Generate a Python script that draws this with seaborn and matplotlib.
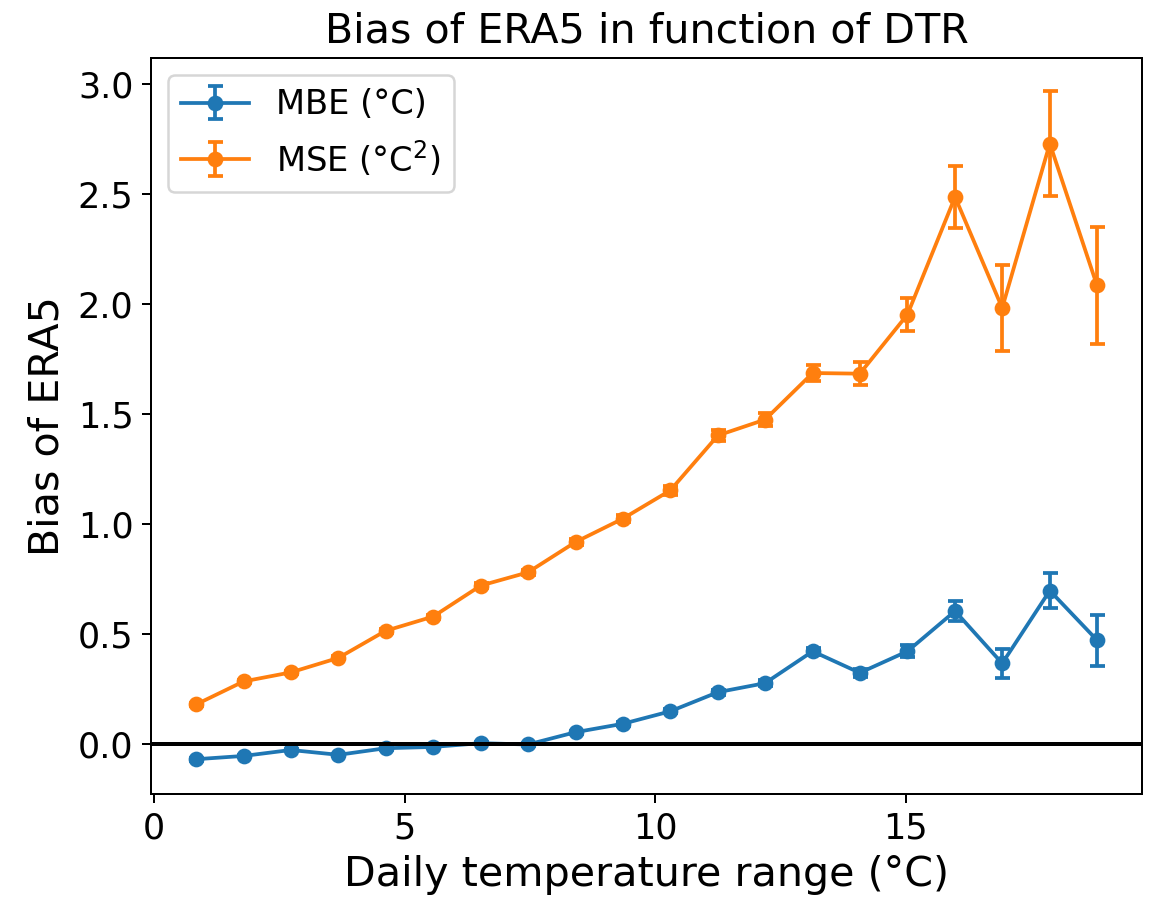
import numpy as np
import pandas as pd
import matplotlib
matplotlib.use("Agg")
import matplotlib.pyplot as plt
import seaborn as sns
from matplotlib.legend_handler import HandlerTuple

# ---- data ----
dtr = [0.84, 1.79, 2.73, 3.68, 4.62, 5.57, 6.52, 7.46, 8.41, 9.35,
       10.30, 11.25, 12.19, 13.14, 14.08, 15.03, 15.98, 16.92, 17.87, 18.81]
mbe = [-0.070, -0.055, -0.028, -0.050, -0.020, -0.014, 0.003, -0.003, 0.053, 0.091,
       0.148, 0.235, 0.276, 0.421, 0.323, 0.421, 0.604, 0.366, 0.697, 0.472]
mbe_err = [0.006, 0.006, 0.006, 0.006, 0.006, 0.006, 0.006, 0.007, 0.007, 0.008,
           0.009, 0.011, 0.013, 0.016, 0.018, 0.027, 0.046, 0.065, 0.080, 0.116]
mse = [0.179, 0.284, 0.325, 0.391, 0.514, 0.579, 0.720, 0.780, 0.918, 1.024,
       1.153, 1.403, 1.475, 1.687, 1.684, 1.953, 2.488, 1.983, 2.731, 2.086]
mse_err = [0.005, 0.006, 0.006, 0.007, 0.008, 0.009, 0.011, 0.012, 0.014, 0.017,
           0.020, 0.025, 0.030, 0.036, 0.052, 0.074, 0.139, 0.197, 0.237, 0.265]
series_labels = ["MBE (°C)", "MSE (°C$^2$)"]

title = "Bias of ERA5 in function of DTR"
xlabel = "Daily temperature range (°C)"
ylabel = "Bias of ERA5"

plt.rcParams['font.family'] = ['DejaVu Sans']
palette = sns.color_palette("tab10")
colors = [palette[0], palette[1]]

fig = plt.figure(figsize=(1149 / 180, 899 / 180), dpi=180)
ax = fig.add_axes([0.1314, 0.1168, 0.9939 - 0.1314, 0.9355 - 0.1168])

handles = []
for vals, errs, lab, col in zip([mbe, mse], [mbe_err, mse_err], series_labels, colors):
    df = pd.DataFrame({"x": dtr, "y": vals})
    n_before = len(ax.get_lines())
    sns.lineplot(data=df, x="x", y="y", ax=ax, color=col, marker="o",
                 markersize=6.3, markeredgewidth=0, linewidth=1.5, legend=False)
    line = ax.get_lines()[n_before]
    eb = ax.errorbar(dtr, vals, yerr=errs, fmt="none", ecolor=col,
                     elinewidth=1.5, capsize=3, capthick=1.5)
    handles.append((line, eb))

ax.axhline(0, color="black", linewidth=1.6)

ax.set_title(title, fontsize=16.5)
ax.set_xlabel(xlabel, fontsize=16.5)
ax.set_ylabel(ylabel, fontsize=16.5)
ax.tick_params(labelsize=14)
ax.set_xticks([0, 5, 10, 15])
ax.set_yticks([0.0, 0.5, 1.0, 1.5, 2.0, 2.5, 3.0])
ax.set_yticklabels(["0.0", "0.5", "1.0", "1.5", "2.0", "2.5", "3.0"])

ax.legend(handles, series_labels, loc="upper left", fontsize=13.5,
          handler_map={tuple: HandlerTuple(ndivide=1)})

fig.savefig("out.png", dpi=180)
